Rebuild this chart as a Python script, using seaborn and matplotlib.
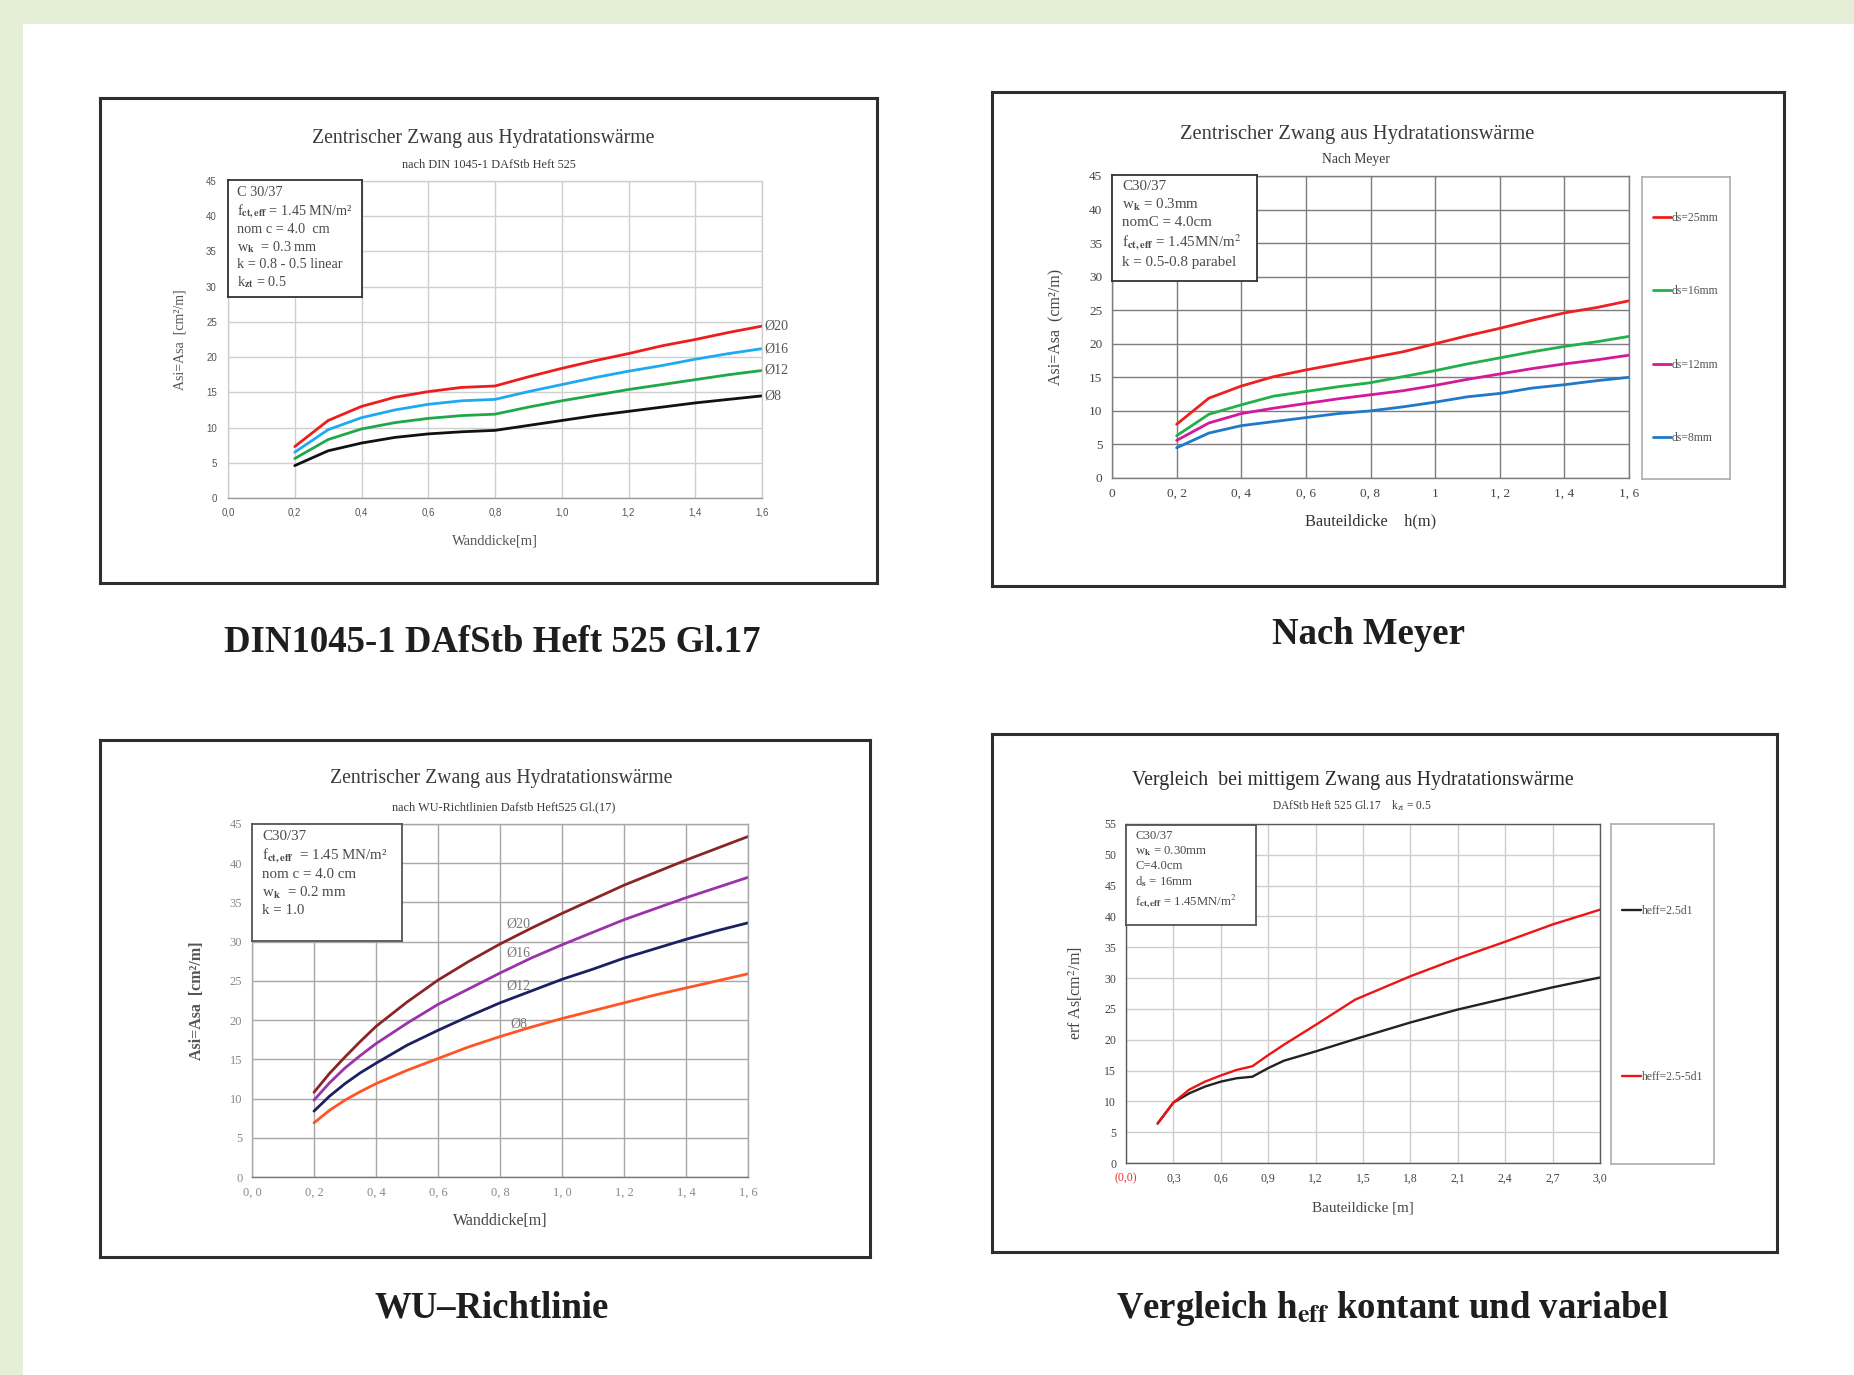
import matplotlib
matplotlib.use('Agg')
import matplotlib.pyplot as plt
import seaborn as sns

# ---------------- data ----------------
# panel 1: DIN 1045-1 / DAfStb Heft 525
din_x = [0.2, 0.3, 0.4, 0.5, 0.6, 0.7, 0.8, 0.9, 1.0, 1.1, 1.2, 1.3, 1.4, 1.5, 1.6]
din_d20 = [7.3, 11.0, 13.0, 14.3, 15.1, 15.7, 15.9, 17.2, 18.4, 19.5, 20.5, 21.6, 22.5, 23.5, 24.4]
din_d16 = [6.5, 9.7, 11.4, 12.5, 13.3, 13.8, 14.0, 15.1, 16.1, 17.1, 18.0, 18.8, 19.7, 20.5, 21.2]
din_d12 = [5.6, 8.3, 9.8, 10.7, 11.3, 11.7, 11.9, 12.9, 13.8, 14.6, 15.4, 16.1, 16.8, 17.5, 18.1]
din_d8 = [4.6, 6.7, 7.8, 8.6, 9.1, 9.4, 9.6, 10.3, 11.0, 11.7, 12.3, 12.9, 13.5, 14.0, 14.5]
din_names = ['Ø20', 'Ø16', 'Ø12', 'Ø8']

# panel 2: nach Meyer
mey_x = [0.2, 0.3, 0.4, 0.5, 0.6, 0.7, 0.8, 0.9, 1.0, 1.1, 1.2, 1.3, 1.4, 1.5, 1.6]
mey_25 = [8.0, 11.9, 13.7, 15.1, 16.1, 17.0, 17.9, 18.8, 20.0, 21.2, 22.3, 23.5, 24.6, 25.4, 26.4]
mey_16 = [6.3, 9.5, 10.9, 12.2, 12.9, 13.6, 14.2, 15.1, 16.0, 17.0, 17.9, 18.8, 19.6, 20.3, 21.1]
mey_12 = [5.6, 8.2, 9.6, 10.4, 11.1, 11.8, 12.4, 13.0, 13.8, 14.7, 15.5, 16.3, 17.0, 17.6, 18.3]
mey_8 = [4.5, 6.7, 7.8, 8.4, 9.0, 9.6, 10.0, 10.6, 11.3, 12.1, 12.6, 13.4, 13.9, 14.5, 15.0]
mey_names = ['ds=25mm', 'ds=16mm', 'ds=12mm', 'ds=8mm']

# panel 3: WU-Richtlinie
wu_x = [0.2, 0.25, 0.3, 0.35, 0.4, 0.5, 0.6, 0.7, 0.8, 0.9, 1.0, 1.1, 1.2, 1.3, 1.4, 1.5, 1.6]
wu_d20 = [10.8, 13.2, 15.3, 17.3, 19.2, 22.3, 25.1, 27.5, 29.7, 31.7, 33.6, 35.4, 37.2, 38.8, 40.4, 41.9, 43.4]
wu_d16 = [9.8, 12.0, 13.9, 15.5, 17.0, 19.6, 22.0, 24.0, 26.0, 27.9, 29.6, 31.2, 32.8, 34.2, 35.6, 36.9, 38.2]
wu_d12 = [8.4, 10.3, 11.9, 13.3, 14.5, 16.8, 18.7, 20.5, 22.2, 23.7, 25.2, 26.5, 27.9, 29.1, 30.3, 31.4, 32.4]
wu_d8 = [6.9, 8.5, 9.8, 10.9, 11.9, 13.6, 15.1, 16.6, 17.9, 19.1, 20.2, 21.2, 22.2, 23.2, 24.1, 25.0, 25.9]
wu_names = ['Ø20', 'Ø16', 'Ø12', 'Ø8']
wu_label_x = 0.86
wu_label_y = [32.3, 28.5, 24.3, 19.5]

# panel 4: Vergleich heff konstant / variabel
cmp_x = [0.2, 0.3, 0.4, 0.5, 0.6, 0.7, 0.8, 0.9, 1.0, 1.2, 1.45, 1.8, 2.1, 2.4, 2.7, 3.0]
cmp_const = [6.4, 9.8, 11.3, 12.4, 13.2, 13.75, 14.0, 15.4, 16.6, 18.1, 20.1, 22.8, 24.9, 26.7, 28.5, 30.1]
cmp_var = [6.4, 9.8, 11.9, 13.2, 14.2, 15.1, 15.7, 17.5, 19.2, 22.4, 26.5, 30.3, 33.2, 35.9, 38.7, 41.1]
cmp_names = ['heff=2.5d1', 'heff=2.5-5d1']

# tick labels
din_xticks = [0.0, 0.2, 0.4, 0.6, 0.8, 1.0, 1.2, 1.4, 1.6]
din_xlabels = ['0,0', '0,2', '0,4', '0,6', '0,8', '1,0', '1,2', '1,4', '1,6']
mey_xlabels = ['0', '0, 2', '0, 4', '0, 6', '0, 8', '1', '1, 2', '1, 4', '1, 6']
wu_xlabels = ['0, 0', '0, 2', '0, 4', '0, 6', '0, 8', '1, 0', '1, 2', '1, 4', '1, 6']
cmp_xticks = [0.0, 0.3, 0.6, 0.9, 1.2, 1.5, 1.8, 2.1, 2.4, 2.7, 3.0]
cmp_xlabels = ['(0,0)', '0,3', '0,6', '0,9', '1,2', '1,5', '1,8', '2,1', '2,4', '2,7', '3,0']
y45 = list(range(0, 46, 5))
y55 = list(range(0, 56, 5))

# ---------------- figure ----------------
sns.set_theme(style='white')
plt.rcParams['font.family'] = ['Liberation Serif', 'DejaVu Serif']
plt.rcParams['mathtext.fontset'] = 'stix'

W, H = 1854, 1375
fig = plt.figure(figsize=(W / 100, H / 100), dpi=100)
fig.patch.set_facecolor('#e5efd5')


def box(x0, y0, x1, y1):
    return [x0 / W, 1 - y1 / H, (x1 - x0) / W, (y1 - y0) / H]


def ftext(x, y, s, **kw):
    fig.text(x / W, 1 - y / H, s, ha='center', va='center', **kw)


# white page
page = fig.add_axes(box(23, 24, W, H))
page.set_axis_off()
page.add_patch(plt.Rectangle((0, 0), 1, 1, transform=page.transAxes, color='white'))


def frame(x0, y0, x1, y1):
    fr = fig.add_axes(box(x0, y0, x1, y1))
    fr.set_xticks([])
    fr.set_yticks([])
    fr.set_facecolor('white')
    for s in fr.spines.values():
        s.set_color('#2e2e2e')
        s.set_linewidth(2.2)


def plot_axes(rect, xlim, ylim, xticks, xlabels, yticks, grid_c, spine_c, tfont, tsize, tcol):
    ax = fig.add_axes(box(*rect))
    ax.set_facecolor('white')
    ax.set_xlim(xlim)
    ax.set_ylim(ylim)
    ax.set_xticks(xticks)
    ax.set_xticklabels(xlabels)
    ax.set_yticks(yticks)
    ax.grid(True, color=grid_c, lw=1.0)
    for s in ax.spines.values():
        s.set_color(spine_c)
        s.set_linewidth(1.0)
    ax.tick_params(axis='both', length=0, pad=7, labelsize=tsize, labelcolor=tcol)
    for lab in ax.get_xticklabels() + ax.get_yticklabels():
        lab.set_family(tfont)
    return ax


def info(rect, lines, fs, ls, border):
    ib = fig.add_axes(box(*rect))
    ib.set_xticks([])
    ib.set_yticks([])
    ib.set_facecolor('white')
    for s in ib.spines.values():
        s.set_color(border)
        s.set_linewidth(1.3)
    ib.text(0.07, 0.95, '\n'.join(lines), transform=ib.transAxes, va='top', ha='left',
            fontsize=fs, linespacing=ls, color='#4a4a4a')


# ===== panel 1 =====
frame(100, 98, 877, 583)
ax1 = plot_axes((228, 181, 762, 498), (0, 1.6), (0, 45), din_xticks, din_xlabels, y45,
                '#cfcfcf', '#cfcfcf', ['Liberation Sans', 'DejaVu Sans'], 7, '#555555')
ax1.spines['bottom'].set_color('#9a9a9a')
ax1.tick_params(axis='y', length=5, color='#9a9a9a', direction='out', pad=3)
for ys, c, name in zip([din_d20, din_d16, din_d12, din_d8],
                       ['#ee1d1d', '#1eaaf0', '#1fa84a', '#111111'], din_names):
    sns.lineplot(x=din_x, y=ys, ax=ax1, color=c, lw=2.0)
    ax1.annotate(name, xy=(din_x[-1], ys[-1]), xytext=(2, 0), textcoords='offset points',
                 va='center', ha='left', fontsize=10, color='#555555', annotation_clip=False)
ax1.set_ylabel('Asi=Asa  [cm²/m]', fontsize=10, color='#555555', labelpad=14)
ax1.set_xlabel('Wanddicke[m]', fontsize=10.5, color='#555555', labelpad=12)
ftext(483, 138, 'Zentrischer Zwang aus Hydratationswärme', fontsize=14.2, color='#3a3a3a')
ftext(489, 165, 'nach DIN 1045-1 DAfStb Heft 525', fontsize=8.8, color='#3a3a3a')
info((228, 180, 362, 297),
     ['C 30/37', r'f$_{\mathbf{ct,eff}}$ = 1.45 MN/m²', 'nom c = 4.0  cm', r'w$_{\mathbf{k}}$  = 0.3 mm',
      'k = 0.8 - 0.5 linear', r'k$_{\mathbf{zt}}$ = 0.5'], 10.3, 1.26, '#333333')
ftext(492, 642, 'DIN1045-1 DAfStb Heft 525 Gl.17', fontsize=26.5, fontweight='bold', color='#1e1e1e')

# ===== panel 2 =====
frame(992, 92, 1784, 586)
ax2 = plot_axes((1112, 176, 1629, 478), (0, 1.6), (0, 45), din_xticks, mey_xlabels, y45,
                '#7d7d7d', '#7d7d7d', ['Liberation Serif'], 9.5, '#444444')
lines2 = []
for ys, c in zip([mey_25, mey_16, mey_12, mey_8], ['#ee2020', '#22b04a', '#d4189c', '#1f78c8']):
    sns.lineplot(x=mey_x, y=ys, ax=ax2, color=c, lw=2.0)
    lines2.append(ax2.lines[-1])
ax2.set_ylabel('Asi=Asa  (cm²/m)', fontsize=11.5, color='#444444', labelpad=18)
ax2.set_xlabel('Bauteildicke    h(m)', fontsize=11.8, color='#333333', labelpad=10)
ftext(1357, 135, 'Zentrischer Zwang aus Hydratationswärme', fontsize=14.8, color='#3a3a3a')
ftext(1356, 160, 'Nach Meyer', fontsize=9.8, color='#3a3a3a')
info((1112, 175, 1257, 281),
     ['C30/37', r'w$_{\mathbf{k}}$ = 0.3mm', 'nomC = 4.0cm', r'f$_{\mathbf{ct,eff}}$ = 1.45MN/m$^2$',
      'k = 0.5-0.8 parabel'], 10.8, 1.28, '#333333')
lg2 = fig.add_axes(box(1642, 177, 1730, 479))
lg2.set_xticks([])
lg2.set_yticks([])
for s in lg2.spines.values():
    s.set_color('#b0b0b0')
lg2.legend(lines2, mey_names, loc='center', frameon=False, fontsize=8.5, labelspacing=5.2,
           handlelength=1.5, handletextpad=0.1, labelcolor='#555555')
ftext(1368, 635, 'Nach Meyer', fontsize=26.5, fontweight='bold', color='#1e1e1e')

# ===== panel 3 =====
frame(100, 740, 870, 1257)
ax3 = plot_axes((252, 824, 748, 1177), (0, 1.6), (0, 45), din_xticks, wu_xlabels, y45,
                '#a8a8a8', '#a8a8a8', ['Liberation Serif'], 9, '#888888')
ax3.spines['bottom'].set_color('#777777')
for ys, c, name, ly in zip([wu_d20, wu_d16, wu_d12, wu_d8],
                           ['#8b2525', '#9a33a8', '#1d2060', '#ff5524'], wu_names, wu_label_y):
    sns.lineplot(x=wu_x, y=ys, ax=ax3, color=c, lw=2.0)
    ax3.text(wu_label_x, ly, name, fontsize=10, color='#777777', ha='center', va='center')
ax3.set_ylabel('Asi=Asa  [cm²/m]', fontsize=11.5, color='#555555', fontweight='bold', labelpad=18)
ax3.set_xlabel('Wanddicke[m]', fontsize=11.5, color='#444444', labelpad=10)
ftext(501, 779, 'Zentrischer Zwang aus Hydratationswärme', fontsize=14.2, color='#3a3a3a')
ftext(504, 807, 'nach WU-Richtlinien Dafstb Heft525 Gl.(17)', fontsize=8.8, color='#3a3a3a')
info((252, 824, 402, 941),
     ['C30/37', r'f$_{\mathbf{ct,eff}}$  = 1.45 MN/m²', 'nom c = 4.0 cm', r'w$_{\mathbf{k}}$  = 0.2 mm',
      'k = 1.0'], 10.8, 1.3, '#555555')
ftext(492, 1308, 'WU–Richtlinie', fontsize=26.5, fontweight='bold', color='#1e1e1e')

# ===== panel 4 =====
frame(992, 734, 1777, 1252)
ax4 = plot_axes((1126, 824, 1600, 1163), (0, 3.0), (0, 55), cmp_xticks, cmp_xlabels, y55,
                '#cdcdcd', '#5a5a5a', ['Liberation Serif'], 8.5, '#444444')
ax4.get_xticklabels()[0].set_color('#e83030')
lines4 = []
for ys, c in zip([cmp_const, cmp_var], ['#222222', '#ee1414']):
    sns.lineplot(x=cmp_x, y=ys, ax=ax4, color=c, lw=1.7)
    lines4.append(ax4.lines[-1])
ax4.set_ylabel('erf As[cm$^2$/m]', fontsize=11.5, color='#444444', labelpad=14)
ax4.set_xlabel('Bauteildicke [m]', fontsize=10.8, color='#444444', labelpad=12)
ftext(1353, 780, 'Vergleich  bei mittigem Zwang aus Hydratationswärme', fontsize=14.3, color='#2a2a2a')
ftext(1352, 806, r'DAfStb Heft 525 Gl.17    k$_{\mathrm{zt}}$ = 0.5', fontsize=8.3, color='#3a3a3a')
info((1126, 825, 1256, 925),
     ['C30/37', r'w$_{\mathbf{k}}$ = 0.30mm', 'C=4.0cm', r'd$_{\mathbf{s}}$ = 16mm',
      r'f$_{\mathbf{ct,eff}}$ = 1.45MN/m$^2$'], 9.2, 1.22, '#555555')
lg4 = fig.add_axes(box(1611, 824, 1714, 1164))
lg4.set_xticks([])
lg4.set_yticks([])
for s in lg4.spines.values():
    s.set_color('#b0b0b0')
lg4.legend(lines4, cmp_names, loc='center', frameon=False, fontsize=8.5, labelspacing=13.0,
           handlelength=1.6, handletextpad=0.1, labelcolor='#555555')
ftext(1392, 1308, r'Vergleich h$_{\mathbf{eff}}$ kontant und variabel', fontsize=26.5, fontweight='bold',
      color='#1e1e1e')

fig.savefig('out.png', dpi=100, facecolor=fig.get_facecolor())
